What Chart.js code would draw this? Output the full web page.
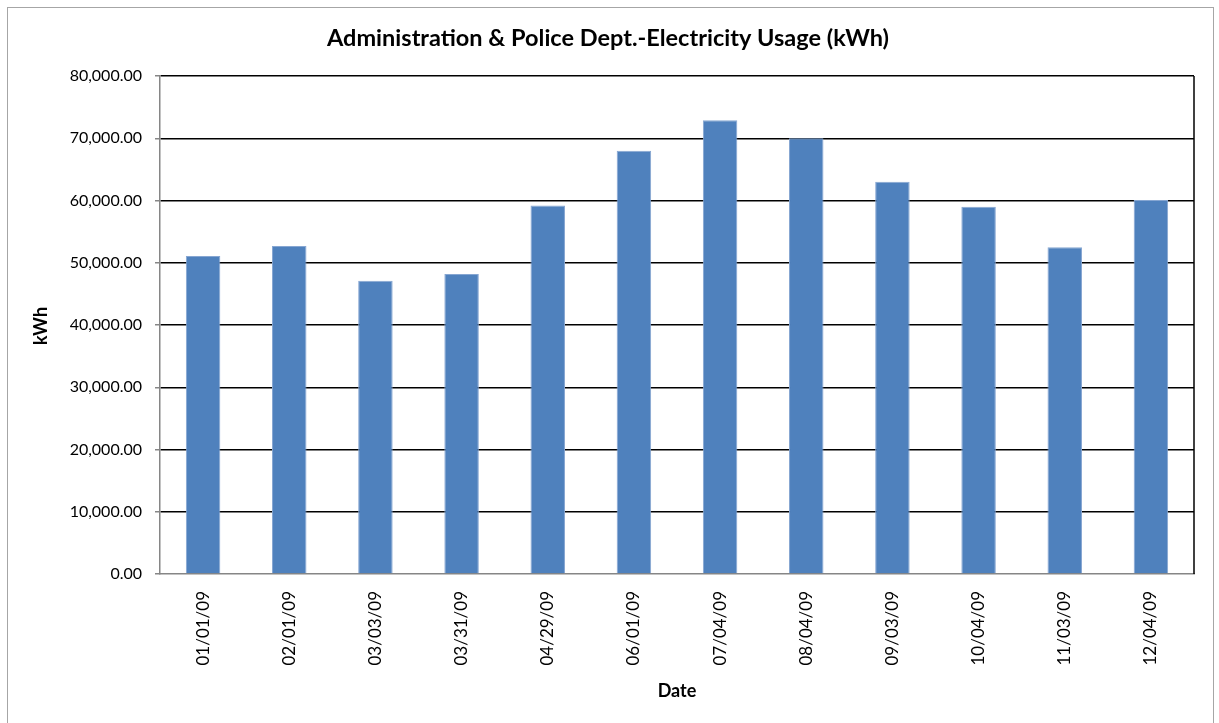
<!DOCTYPE html>
<html>
<head>
<meta charset="utf-8">
<title>Administration & Police Dept. - Electricity Usage</title>
<script src="https://cdn.jsdelivr.net/npm/chart.js@4.4.1/dist/chart.umd.min.js"></script>
<style>
  html, body { margin: 0; padding: 0; background: #ffffff; }
  #wrap { width: 1219px; height: 723px; position: relative; }
</style>
</head>
<body>
<div id="wrap"><canvas id="usage" width="1219" height="723"></canvas></div>
<script>
// Meter read dates and monthly consumption
const dates = ['01/01/09', '02/01/09', '03/03/09', '03/31/09', '04/29/09', '06/01/09',
               '07/04/09', '08/04/09', '09/03/09', '10/04/09', '11/03/09', '12/04/09'];
const usageKWh = [51100, 52700, 47100, 48200, 59200, 68000,
                  72900, 70000, 63000, 59000, 52500, 60100];

// Value axis range
const Y_MIN = 0;
const Y_MAX = 80000;
const Y_STEP = 10000;

// Text
const chartTitle = 'Administration & Police Dept.-Electricity Usage (kWh)';
const yAxisTitle = 'kWh';
const xAxisTitle = 'Date';

const FONT = 'Lato, "Open Sans", "Liberation Sans", sans-serif';
const AXIS_GREY = '#868686';

const fmt = new Intl.NumberFormat('en-US', { minimumFractionDigits: 2, maximumFractionDigits: 2 });

// Frame, chart title, axis titles and the right edge of the plot area
const decorPlugin = {
  id: 'decor',
  beforeDraw(chart) {
    const ctx = chart.ctx;
    ctx.save();
    ctx.fillStyle = '#ffffff';
    ctx.fillRect(0, 0, chart.width, chart.height);
    ctx.strokeStyle = '#a6a6a6';
    ctx.lineWidth = 1;
    ctx.strokeRect(7.5, 7.5, 1206, 740);
    ctx.restore();
  },
  afterDatasetsDraw(chart) {
    const { ctx, chartArea } = chart;
    ctx.save();
    ctx.strokeStyle = '#000000';
    ctx.lineWidth = 1.5;
    ctx.beginPath();
    ctx.moveTo(chartArea.right, chartArea.top);
    ctx.lineTo(chartArea.right, chartArea.bottom);
    ctx.stroke();

    ctx.fillStyle = '#000000';
    ctx.textAlign = 'center';
    ctx.textBaseline = 'alphabetic';

    ctx.font = 'bold 23.5px ' + FONT;
    ctx.fillText(chartTitle, 608, 46);

    ctx.font = 'bold 18px ' + FONT;
    ctx.fillText(xAxisTitle, (chartArea.left + chartArea.right) / 2, 697);

    ctx.translate(47, 326);
    ctx.rotate(-Math.PI / 2);
    ctx.fillText(yAxisTitle, 0, 0);
    ctx.restore();
  }
};

new Chart(document.getElementById('usage'), {
  type: 'bar',
  data: {
    labels: dates,
    datasets: [{
      label: 'kWh',
      data: usageKWh,
      backgroundColor: '#4f81bd',
      borderColor: '#86a6d2',
      borderWidth: 1,
      barPercentage: 0.4,
      categoryPercentage: 1.0
    }]
  },
  options: {
    responsive: false,
    devicePixelRatio: 1,
    animation: false,
    layout: { padding: { top: 76, left: 0, right: 25, bottom: 0 } },
    plugins: {
      legend: { display: false },
      title: { display: false },
      tooltip: { enabled: false }
    },
    scales: {
      x: {
        afterFit(scale) { scale.height = 149; },
        grid: { display: true, drawOnChartArea: false, drawTicks: false },
        border: { display: true, color: AXIS_GREY, width: 1.5 },
        ticks: {
          autoSkip: false,
          maxRotation: 90,
          minRotation: 90,
          padding: 17,
          color: '#000000',
          font: { family: FONT, size: 17 }
        }
      },
      y: {
        min: Y_MIN,
        max: Y_MAX,
        afterFit(scale) { scale.width = 160; },
        grid: {
          color: (c) => (c.tick && c.tick.value === Y_MIN ? 'rgba(0,0,0,0)' : '#000000'),
          lineWidth: 1.5,
          tickColor: AXIS_GREY,
          tickLength: 5,
          drawTicks: true
        },
        border: { display: true, color: AXIS_GREY, width: 1.5 },
        ticks: {
          stepSize: Y_STEP,
          padding: 13,
          color: '#000000',
          font: { family: FONT, size: 16 },
          callback: (v) => fmt.format(v)
        }
      }
    }
  },
  plugins: [decorPlugin]
});
</script>
</body>
</html>
